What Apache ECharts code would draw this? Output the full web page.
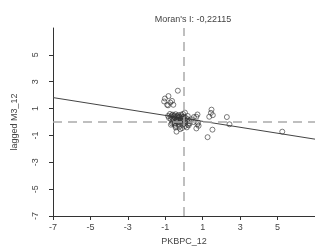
<!DOCTYPE html>
<html>
<head>
<meta charset="utf-8">
<script src="https://cdn.jsdelivr.net/npm/echarts@6/dist/echarts.min.js"></script>
<style>
html, body { margin: 0; padding: 0; background: #fff; }
#chart { width: 315px; height: 251px; }
</style>
</head>
<body>
<div id="chart"></div>
<script>
// Moran scatter: PKBPC_12 vs lagged M3_12
var moranI = -0.22115;
var lineIntercept = 0.27;
var tickValues = [-7, -5, -3, -1, 1, 3, 5];

var xVals = [
    -0.33, -0.83, -1.02, -0.64, -1.06, -0.85, -0.57, -0.73, -0.9,
    0.53, 0.72, 1.47, 1.44, 1.54, 2.29, 0.72, 0.78, 0.66, 1.26, 1.52, 2.43, 5.25,
    -0.4, -0.2, -0.45, 1.35, 0.66, 0.75,
    -0.75, -0.6, -0.45, -0.3, -0.15, -0.05, 0.05,
    -0.8, -0.6, -0.5, -0.4, -0.3, -0.2, -0.1, 0, 0.1, 0.2, 0.3, 0.4,
    -0.6, -0.5, -0.4, -0.3, -0.2, -0.1, 0, 0.1, 0.2, 0.3, 0.5,
    -0.7, -0.45, -0.25, 0.05, 0.15, -0.1, -0.35, -0.05, 0.2,
    -0.85, -0.7, -0.65, -0.55, -0.5, -0.35, -0.25, -0.15, -0.7, -0.55,
    -0.4, -0.3, -0.2, -0.65, -0.5, -0.35, -0.1, 0.0, 0.15, 0.25
];
var yVals = [
    2.33, 1.93, 1.75, 1.57, 1.53, 1.24, 1.28, 1.45, 1.28,
    0.37, 0.56, 0.92, 0.68, 0.51, 0.37, -0.17, -0.28, -0.48, -1.13, -0.57, -0.17, -0.72,
    -0.72, -0.53, -0.41, 0.39, 0.39, -0.04,
    0.6, 0.55, 0.58, 0.52, 0.55, 0.6, 0.7,
    0.3, 0.25, 0.35, 0.15, 0.3, 0.1, 0.25, 0.15, 0.3, 0.2, 0.1, 0.2,
    0, -0.1, 0.05, -0.15, -0.05, -0.2, -0.1, -0.05, -0.2, -0.1, 0,
    -0.2, -0.3, -0.35, -0.3, -0.4, -0.45, 0.4, 0.35, 0.45,
    0.45, 0.4, 0.5, 0.42, 0.48, 0.45, 0.4, 0.42, 0.2, 0.15,
    0.2, 0.1, 0.3, -0.1, -0.2, 0.0, 0.05, 0.4, 0.05, -0.25
];

var points = [];
for (var i = 0; i < xVals.length; i++) {
    points.push([xVals[i], yVals[i]]);
}
var fitLine = [
    [-7, lineIntercept + moranI * -7],
    [7, lineIntercept + moranI * 7]
];

var font = 'Liberation Sans, Arial, sans-serif';
var chart = echarts.init(document.getElementById('chart'));
chart.setOption({
    animation: false,
    title: {
        text: "Moran's I: -0,22115",
        left: 188,
        top: 10,
        textAlign: 'center',
        textStyle: { fontFamily: font, fontSize: 9, fontWeight: 'normal', color: '#444' }
    },
    grid: { left: 53, right: -10, top: 28, bottom: 30 },
    xAxis: {
        type: 'value', min: -7, max: 7, interval: 2,
        name: 'PKBPC_12', nameLocation: 'middle', nameGap: 21,
        nameTextStyle: { fontFamily: font, fontSize: 9, color: '#444' },
        axisLine: { show: true, onZero: false, lineStyle: { color: '#333', width: 1 } },
        axisTick: { show: true, length: 4, customValues: tickValues, lineStyle: { color: '#333' } },
        axisLabel: { customValues: tickValues, fontFamily: font, fontSize: 9, color: '#444', margin: 7 },
        splitLine: { show: false }
    },
    yAxis: {
        type: 'value', min: -7, max: 7, interval: 2,
        name: 'lagged M3_12', nameLocation: 'middle', nameGap: 34,
        nameTextStyle: { fontFamily: font, fontSize: 9, color: '#444' },
        axisLine: { show: true, onZero: false, lineStyle: { color: '#333', width: 1 } },
        axisTick: { show: true, length: 4, customValues: tickValues, lineStyle: { color: '#333' } },
        axisLabel: { customValues: tickValues, rotate: 90, fontFamily: font, fontSize: 9, color: '#444', margin: 13 },
        splitLine: { show: false }
    },
    series: [
        {
            type: 'line',
            data: fitLine,
            symbol: 'none',
            lineStyle: { color: '#444', width: 1 },
            markLine: {
                silent: true,
                symbol: 'none',
                label: { show: false },
                lineStyle: { color: '#aaa', width: 1.5, type: [9, 6] },
                data: [{ xAxis: 0 }, { yAxis: 0 }]
            },
            z: 2
        },
        {
            type: 'scatter',
            data: points,
            symbol: 'circle',
            symbolSize: 5,
            itemStyle: { color: 'rgba(0,0,0,0)', borderColor: '#333', borderWidth: 0.8 },
            z: 3
        }
    ]
});
</script>
</body>
</html>
